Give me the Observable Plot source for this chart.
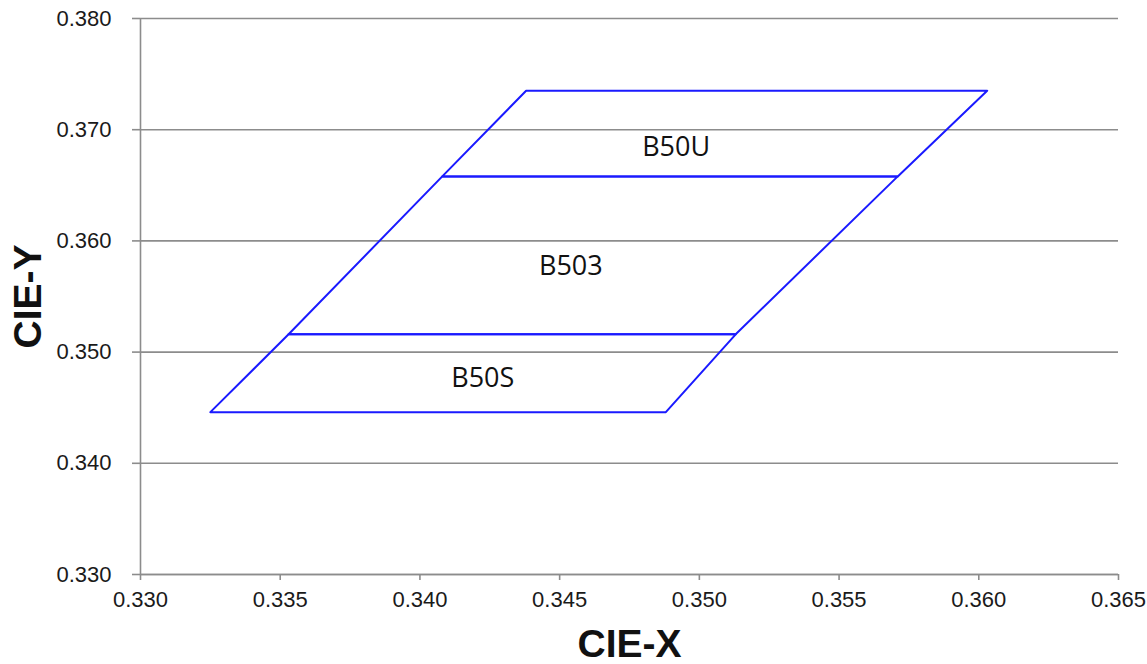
<!DOCTYPE html>
<html><head><meta charset="utf-8">
<script src="https://cdn.jsdelivr.net/npm/d3@7"></script>
<script src="https://cdn.jsdelivr.net/npm/@observablehq/plot@0.6"></script>
<style>body{margin:0;background:#fff}</style>
</head><body><div id="chart"></div>
<script>
// Bin names and their quadrilateral corners (CIE x, CIE y)
const binNames = ["B50S", "B503", "B50U"];
const binX = [
  [0.3325, 0.3488, 0.3513, 0.3353],
  [0.3353, 0.3513, 0.3571, 0.3408],
  [0.3408, 0.3571, 0.3603, 0.3438]
];
const binY = [
  [0.3446, 0.3446, 0.3516, 0.3516],
  [0.3516, 0.3516, 0.3658, 0.3658],
  [0.3658, 0.3658, 0.3735, 0.3735]
];
// Label positions
const labelX = [0.34225, 0.3454, 0.34917];
const labelY = [0.34763, 0.3577, 0.3684];
// Ticks
const xTicks = [0.330, 0.335, 0.340, 0.345, 0.350, 0.355, 0.360, 0.365];
const yTicks = [0.330, 0.340, 0.350, 0.360, 0.370, 0.380];

const outline = binNames.flatMap((b, i) => {
  const xs = [...binX[i], binX[i][0]];
  const ys = [...binY[i], binY[i][0]];
  return xs.map((x, j) => ({bin: b, x, y: ys[j]}));
});
const labels = binNames.map((b, i) => ({bin: b, x: labelX[i], y: labelY[i]}));

const grey = "#8c8c8c";
const chart = Plot.plot({
  width: 1147, height: 664,
  marginLeft: 140, marginRight: 29, marginTop: 18, marginBottom: 90,
  style: {fontFamily: "'Liberation Sans', Arial, sans-serif", fontSize: "22px", color: "#1a1a1a", background: "#fff"},
  x: {domain: [0.330, 0.365]},
  y: {domain: [0.330, 0.380]},
  marks: [
    Plot.gridY(yTicks, {stroke: grey, strokeOpacity: 1, strokeWidth: 1.6}),
    Plot.ruleX([0.330], {stroke: grey, strokeWidth: 1.6}),
    Plot.ruleY([0.330], {stroke: grey, strokeWidth: 1.6}),
    Plot.axisY({ticks: yTicks, tickFormat: d3.format(".3f"), tickSize: 8, tickPadding: 21, stroke: grey, strokeWidth: 1.6,
      label: "CIE-Y", labelAnchor: "center", labelArrow: "none", labelOffset: 127}),
    Plot.axisX({ticks: xTicks, tickFormat: d3.format(".3f"), tickSize: 6, tickPadding: 11, stroke: grey, strokeWidth: 1.6,
      label: "CIE-X", labelAnchor: "center", labelArrow: "none", labelOffset: 82}),
    Plot.line(outline, {x: "x", y: "y", z: "bin", stroke: "#1a1aff", strokeWidth: 2, curve: "linear"}),
    Plot.text(labels, {x: "x", y: "y", text: "bin", fontFamily: "'Open Sans', sans-serif", fontSize: 27, fill: "#111"})
  ]
});
d3.select(chart).selectAll('g[aria-label="y-axis label"] text, g[aria-label="x-axis label"] text')
  .style("font-size", "39px").style("font-weight", "bold").style("fill", "#111");
document.getElementById("chart").appendChild(chart);
</script>
</body></html>
